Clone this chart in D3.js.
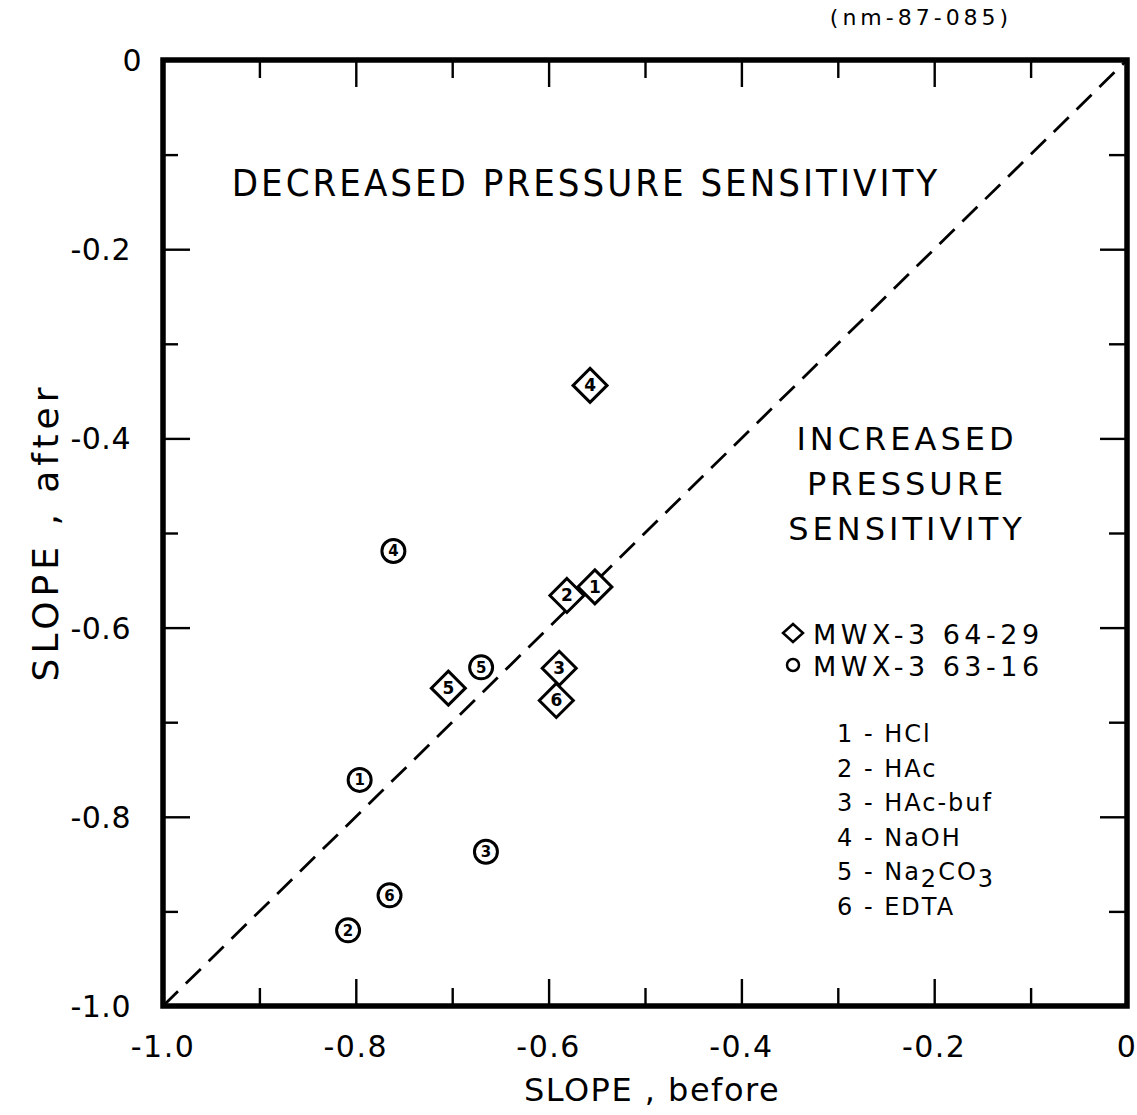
<!DOCTYPE html>
<html>
<head>
<meta charset="utf-8">
<script src="https://cdn.jsdelivr.net/npm/d3@7"></script>
<style>
  body { margin: 0; background: #fff; }
  text { font-family: "DejaVu Sans", sans-serif; fill: #000; }
</style>
</head>
<body>
<svg id="chart"></svg>
<script>
// tick values
const majorTicks = [-1.0, -0.8, -0.6, -0.4, -0.2, 0];
const minorTicks = [-0.9, -0.7, -0.5, -0.3, -0.1];

// MWX-3 64-29 (diamonds), treatment number 1..6
const diamondIds = [1, 2, 3, 4, 5, 6];
const diamondBefore = [-0.552, -0.581, -0.589, -0.557, -0.704, -0.592];
const diamondAfter = [-0.557, -0.566, -0.643, -0.344, -0.664, -0.677];

// MWX-3 63-16 (circles)
const circleIds = [1, 2, 3, 4, 5, 6];
const circleBefore = [-0.796, -0.808, -0.665, -0.761, -0.670, -0.765];
const circleAfter = [-0.761, -0.920, -0.837, -0.519, -0.642, -0.883];

const seriesNames = ["MWX-3 64-29", "MWX-3 63-16"];
const treatments = ["HCl", "HAc", "HAc-buf", "NaOH", "Na2CO3", "EDTA"];

const svg = d3.select("#chart")
    .attr("width", 1137)
    .attr("height", 1115);

const x = d3.scaleLinear().domain([-1, 0]).range([163, 1127]);
const y = d3.scaleLinear().domain([-1, 0]).range([1006, 60]);

const fmt = d => d === 0 ? "0" : d3.format(".1f")(d).replace("−", "-");

// inward ticks on all four sides
const addTicks = (axisFn, vals, len, translate) => {
    const g = svg.append("g")
        .attr("transform", translate)
        .call(axisFn.tickValues(vals).tickSizeInner(-len).tickSizeOuter(0).tickFormat(""));
    g.select(".domain").remove();
    g.selectAll(".tick line").attr("stroke", "#000").attr("stroke-width", 2.4);
    return g;
};

const inner = majorTicks.slice(1, -1);
addTicks(d3.axisBottom(x), inner, 27, `translate(0,${y(-1)})`);
addTicks(d3.axisBottom(x), minorTicks, 18, `translate(0,${y(-1)})`);
addTicks(d3.axisTop(x), inner, 27, `translate(0,${y(0)})`);
addTicks(d3.axisTop(x), minorTicks, 18, `translate(0,${y(0)})`);
addTicks(d3.axisLeft(y), inner, 27, `translate(${x(-1)},0)`);
addTicks(d3.axisLeft(y), minorTicks, 15, `translate(${x(-1)},0)`);
addTicks(d3.axisRight(y), inner, 27, `translate(${x(0)},0)`);
addTicks(d3.axisRight(y), minorTicks, 18, `translate(${x(0)},0)`);

// tick labels
svg.append("g").selectAll("text")
    .data(majorTicks)
    .join("text")
    .attr("x", d => x(d))
    .attr("y", 1057)
    .attr("text-anchor", "middle")
    .attr("font-size", 30)
    .attr("letter-spacing", 1.5)
    .text(fmt);

svg.append("g").selectAll("text")
    .data(majorTicks)
    .join("text")
    .attr("x", d => d === 0 ? 142 : 131)
    .attr("y", d => y(d) + 11)
    .attr("text-anchor", "end")
    .attr("font-size", 30)
    .attr("letter-spacing", 0.5)
    .text(fmt);

// frame
svg.append("rect")
    .attr("x", x(-1)).attr("y", y(0))
    .attr("width", x(0) - x(-1)).attr("height", y(-1) - y(0))
    .attr("fill", "none")
    .attr("stroke", "#000")
    .attr("stroke-width", 5.5);

// 1:1 line
svg.append("line")
    .attr("x1", x(-1)).attr("y1", y(-1))
    .attr("x2", x(0)).attr("y2", y(0))
    .attr("stroke", "#000")
    .attr("stroke-width", 2.8)
    .attr("stroke-dasharray", "21,11");

// axis titles
svg.append("text")
    .attr("x", 652).attr("y", 1101)
    .attr("text-anchor", "middle")
    .attr("font-size", 32)
    .attr("letter-spacing", 1.5)
    .text("SLOPE , before");

svg.append("text")
    .attr("transform", "translate(58,532) rotate(-90)")
    .attr("text-anchor", "middle")
    .attr("font-size", 36)
    .attr("letter-spacing", 5)
    .text("SLOPE , after");

svg.append("text")
    .attr("x", 921).attr("y", 25)
    .attr("text-anchor", "middle")
    .attr("font-size", 22)
    .attr("letter-spacing", 4)
    .text("(nm-87-085)");

// region notes
svg.append("text")
    .attr("x", 586).attr("y", 196)
    .attr("text-anchor", "middle")
    .attr("font-size", 38)
    .style("font-stretch", "condensed")
    .attr("letter-spacing", 3)
    .text("DECREASED  PRESSURE  SENSITIVITY");

["INCREASED", "PRESSURE", "SENSITIVITY"].forEach((t, i) => {
    svg.append("text")
        .attr("x", 907).attr("y", 450 + i * 45)
        .attr("text-anchor", "middle")
        .attr("font-size", 32)
        .attr("letter-spacing", 4)
        .text(t);
});

// points
const diamondPath = "M0,-17L17,0L0,17L-17,0Z";

const diamonds = svg.append("g").selectAll("g")
    .data(diamondIds.map((id, i) => ({ id, bx: diamondBefore[i], ay: diamondAfter[i] })))
    .join("g")
    .attr("transform", d => `translate(${x(d.bx)},${y(d.ay)})`);
diamonds.append("path")
    .attr("d", diamondPath)
    .attr("fill", "#fff")
    .attr("stroke", "#000")
    .attr("stroke-width", 3);
diamonds.append("text")
    .attr("y", 6)
    .attr("text-anchor", "middle")
    .attr("font-size", 17)
    .attr("font-weight", "bold")
    .text(d => d.id);

const circles = svg.append("g").selectAll("g")
    .data(circleIds.map((id, i) => ({ id, bx: circleBefore[i], ay: circleAfter[i] })))
    .join("g")
    .attr("transform", d => `translate(${x(d.bx)},${y(d.ay)})`);
circles.append("circle")
    .attr("r", 11.5)
    .attr("fill", "#fff")
    .attr("stroke", "#000")
    .attr("stroke-width", 3);
circles.append("text")
    .attr("y", 5.5)
    .attr("text-anchor", "middle")
    .attr("font-size", 15)
    .attr("font-weight", "bold")
    .text(d => d.id);

// legend
const legend = svg.append("g");
legend.append("path")
    .attr("d", "M0,-9L10,0L0,9L-10,0Z")
    .attr("transform", "translate(793,633)")
    .attr("fill", "none").attr("stroke", "#000").attr("stroke-width", 2.5);
legend.append("circle")
    .attr("cx", 793).attr("cy", 665).attr("r", 6)
    .attr("fill", "none").attr("stroke", "#000").attr("stroke-width", 2.5);
seriesNames.forEach((s, i) => {
    legend.append("text")
        .attr("x", 813).attr("y", 644 + i * 32)
        .attr("font-size", 27)
        .attr("letter-spacing", 4.5)
        .text(s);
});

treatments.forEach((t, i) => {
    const tx = legend.append("text")
        .attr("x", 837).attr("y", 742 + i * 34.5)
        .attr("font-size", 24)
        .attr("letter-spacing", 2);
    tx.append("tspan").text(`${i + 1} - `);
    if (t === "Na2CO3") {
        tx.append("tspan").text("Na");
        tx.append("tspan").attr("dy", 7).text("2");
        tx.append("tspan").attr("dy", -7).text("CO");
        tx.append("tspan").attr("dy", 7).text("3");
    } else {
        tx.append("tspan").text(t);
    }
});
</script>
</body>
</html>
